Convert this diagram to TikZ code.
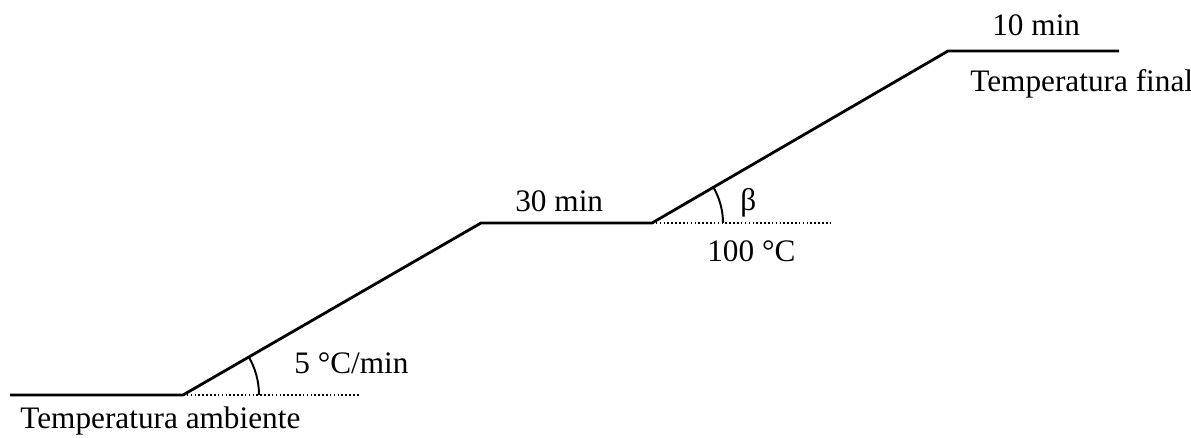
\documentclass[tikz,border=0pt]{standalone}
\usepackage{fontspec}
\setmainfont{Liberation Serif}
\usetikzlibrary{positioning}

\begin{document}
\begin{tikzpicture}[x=0.02cm, y=-0.02cm,
  ramp/.style={line width=1.6pt, line join=miter},
  refline/.style={line width=1.4pt, dash pattern=on 0.9pt off 1.3pt},
  angmark/.style={line width=1.1pt},
  lbl/.style={font=\fontsize{17.8}{20}\selectfont, inner sep=0pt, anchor=base west},
]
  \useasboundingbox (0,0) rectangle (1191,438);
  % corners of the heating programme
  \coordinate (start) at (10,395);
  \coordinate (rampA) at (183,395);
  \coordinate (holdA) at (481,223);
  \coordinate (rampB) at (652,223);
  \coordinate (holdB) at (948,51);
  \coordinate (stop) at (1119,51);
  \coordinate (dotA) at (360,395);
  \coordinate (dotB) at (831,223);

  \draw[ramp] (start) -- (rampA) -- (holdA) -- (rampB) -- (holdB) -- (stop);
  \draw[refline] (rampA) -- (dotA);
  \draw[refline] (rampB) -- (dotB);
  \draw[angmark] ([shift={(0:76)}]rampA) arc (0:-30:76);
  \draw[angmark] ([shift={(0:71)}]rampB) arc (0:-30:71);

  \node[lbl] (amb) at (20,429) {Temperatura ambiente};
  \node[lbl] (rate) at (294,374) {5 °C/min};
  \node[lbl] (holdmid) at (515,212) {30 min};
  \node[lbl] (mid) at (707,262) {100 °C};
  \node[lbl] (beta) at (740,211) {β};
  \node[lbl] (holdend) at (992,36) {10 min};
  \node[lbl] (final) at (970,92) {Temperatura final};
\end{tikzpicture}
\end{document}
